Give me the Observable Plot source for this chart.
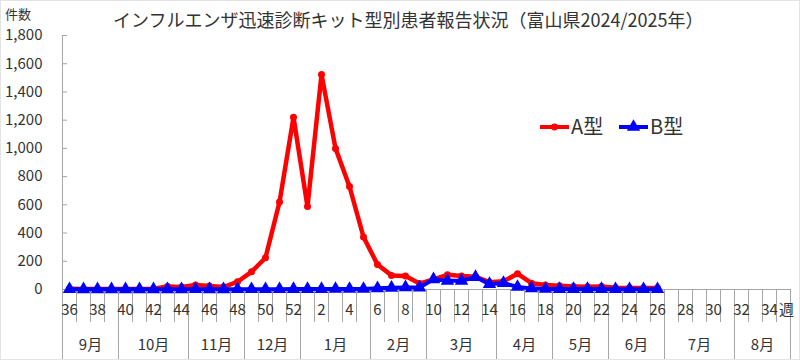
<!DOCTYPE html>
<html><head><meta charset="utf-8">
<script src="https://cdn.jsdelivr.net/npm/d3@7"></script>
<script src="https://cdn.jsdelivr.net/npm/@observablehq/plot@0.6"></script>
<style>
body{margin:0;background:#fff;font-family:"Noto Sans CJK JP","Noto Sans",sans-serif;}
#wrap{position:relative;width:800px;height:360px;overflow:hidden;}
#border{position:absolute;left:0;top:0;width:800px;height:360px;box-sizing:border-box;border:1px solid #e3e3e3;pointer-events:none;}
.t{position:absolute;white-space:nowrap;color:#333;line-height:1;}
</style></head>
<body><div id="wrap"></div>
<script>
// Categories: survey weeks (2024 wk36 .. 2025 wk35)
const weeks = [36,37,38,39,40,41,42,43,44,45,46,47,48,49,50,51,52,1,2,3,4,5,6,7,8,9,10,11,12,13,14,15,16,17,18,19,20,21,22,23,24,25,26,27,28,29,30,31,32,33,34,35];
// Month groups and number of weeks in each
const months = ["9月","10月","11月","12月","1月","2月","3月","4月","5月","6月","7月","8月"];
const monthWeeks = [4,5,4,4,5,4,5,4,4,4,5,4];
// Series values (weeks 36 .. 26)
const typeA = [5,3,3,3,4,3,5,22,18,32,24,17,55,125,225,620,1220,588,1524,1000,730,372,177,100,95,42,72,104,95,90,52,58,112,45,32,26,22,20,22,12,10,10,10];
const typeB = [2,1,1,1,1,1,1,1,1,2,1,1,2,2,2,2,3,3,3,4,4,4,8,12,15,14,72,62,62,88,38,46,18,8,4,3,3,3,3,2,2,2,2];
const yTicks = [0,200,400,600,800,1000,1200,1400,1600,1800];
const seriesNames = ["A型","B型"];
const title = "インフルエンザ迅速診断キット型別患者報告状況（富山県2024/2025年）";
const yLabel = "件数";
const weekUnit = "週";

const dataA = typeA.map((v,i)=>({i, v}));
const dataB = typeB.map((v,i)=>({i, v}));
const weekBounds = d3.range(weeks.length+1).map(k=>k-0.5);
const cum = [0, ...d3.cumsum(monthWeeks)];
const monthBounds = cum.map(k=>k-0.5);
const monthCenters = months.map((m,j)=>({m, x:(cum[j]+cum[j+1])/2 - 0.5}));
const weekLabelIdx = d3.range(0, weeks.length, 2);
const grey = "#a6a6a6";
const blank = () => "";

const chart = Plot.plot({
  width:800, height:360,
  marginLeft:62, marginRight:10, marginTop:35, marginBottom:71,
  style:{fontFamily:'"Noto Sans CJK JP","Noto Sans",sans-serif', background:"transparent", color:"#333"},
  x:{domain:[-0.5, weeks.length-0.5], axis:null},
  y:{domain:[0,1800], axis:null},
  marks:[
    Plot.ruleX([-0.5], {stroke:grey}),
    Plot.ruleY([0], {stroke:grey}),
    Plot.axisY({ticks:yTicks, tickSize:5, dx:5, stroke:grey, tickFormat:blank, anchor:"left", label:null}),
    Plot.axisY({ticks:yTicks, tickFormat:d3.format(","), tickSize:0, tickPadding:20, fontSize:15, anchor:"left", fill:"#333", label:null}),
    Plot.axisX({ticks:weekBounds, tickSize:33, stroke:grey, tickFormat:blank, anchor:"bottom", label:null}),
    Plot.axisX({ticks:monthBounds, tickSize:71, stroke:grey, tickFormat:blank, anchor:"bottom", label:null}),
    Plot.text(weekLabelIdx, {x:d=>d, text:d=>String(weeks[d]), frameAnchor:"bottom", dy:21, lineAnchor:"middle", fontSize:15, fill:"#333"}),
    Plot.text([weeks.length-1], {x:d=>d, text:()=>weekUnit, frameAnchor:"bottom", dy:21, dx:3, lineAnchor:"middle", fontSize:15, fill:"#333"}),
    Plot.text(monthCenters, {x:"x", text:"m", frameAnchor:"bottom", dy:56, lineAnchor:"middle", fontSize:15, fill:"#333"}),
    Plot.line(dataA, {x:"i", y:"v", stroke:"#ff0000", strokeWidth:4.5}),
    Plot.dot(dataA, {x:"i", y:"v", r:3.5, fill:"#ff0000", stroke:"none"}),
    Plot.line(dataB, {x:"i", y:"v", stroke:"#0000ff", strokeWidth:4}),
    Plot.dot(dataB, {x:"i", y:"v", r:5, symbol:"triangle", fill:"#0000ff", stroke:"none"})
  ]
});
const wrap = document.getElementById("wrap");
wrap.appendChild(chart);
chart.style.position="absolute"; chart.style.left="0"; chart.style.top="0";

function addText(txt, left, top, size, extra){
  const d=document.createElement("div"); d.className="t"; d.textContent=txt;
  d.style.left=left+"px"; d.style.top=top+"px"; d.style.fontSize=size+"px";
  if(extra) Object.assign(d.style, extra);
  wrap.appendChild(d); return d;
}
addText(title, 113, 10, 18);
addText(yLabel, 5, 7, 13);

// legend
const NS="http://www.w3.org/2000/svg";
const lg=document.createElementNS(NS,"svg");
lg.setAttribute("width","800"); lg.setAttribute("height","360");
lg.style.position="absolute"; lg.style.left="0"; lg.style.top="0";
const items=[{x:540, color:"#ff0000", sym:"circle", name:seriesNames[0]},{x:619, color:"#0000ff", sym:"triangle", name:seriesNames[1]}];
items.forEach(it=>{
  const ln=document.createElementNS(NS,"line");
  ln.setAttribute("x1",it.x); ln.setAttribute("x2",it.x+29); ln.setAttribute("y1",127); ln.setAttribute("y2",127);
  ln.setAttribute("stroke",it.color); ln.setAttribute("stroke-width",4); lg.appendChild(ln);
  const p=document.createElementNS(NS,"path");
  p.setAttribute("d", d3.symbol(it.sym==="circle"?d3.symbolCircle:d3.symbolTriangle, it.sym==="circle"?38:78)());
  p.setAttribute("transform",`translate(${it.x+14.5},127)`); p.setAttribute("fill",it.color); lg.appendChild(p);
  const t=document.createElementNS(NS,"text");
  t.setAttribute("x",it.x+31); t.setAttribute("y",134); t.setAttribute("font-size",20);
  t.setAttribute("fill","#333"); t.setAttribute("font-family",'"Noto Sans CJK JP",sans-serif');
  t.textContent=it.name; lg.appendChild(t);
});
wrap.appendChild(lg);
const b=document.createElement("div"); b.id="border"; wrap.appendChild(b);
</script></body></html>
